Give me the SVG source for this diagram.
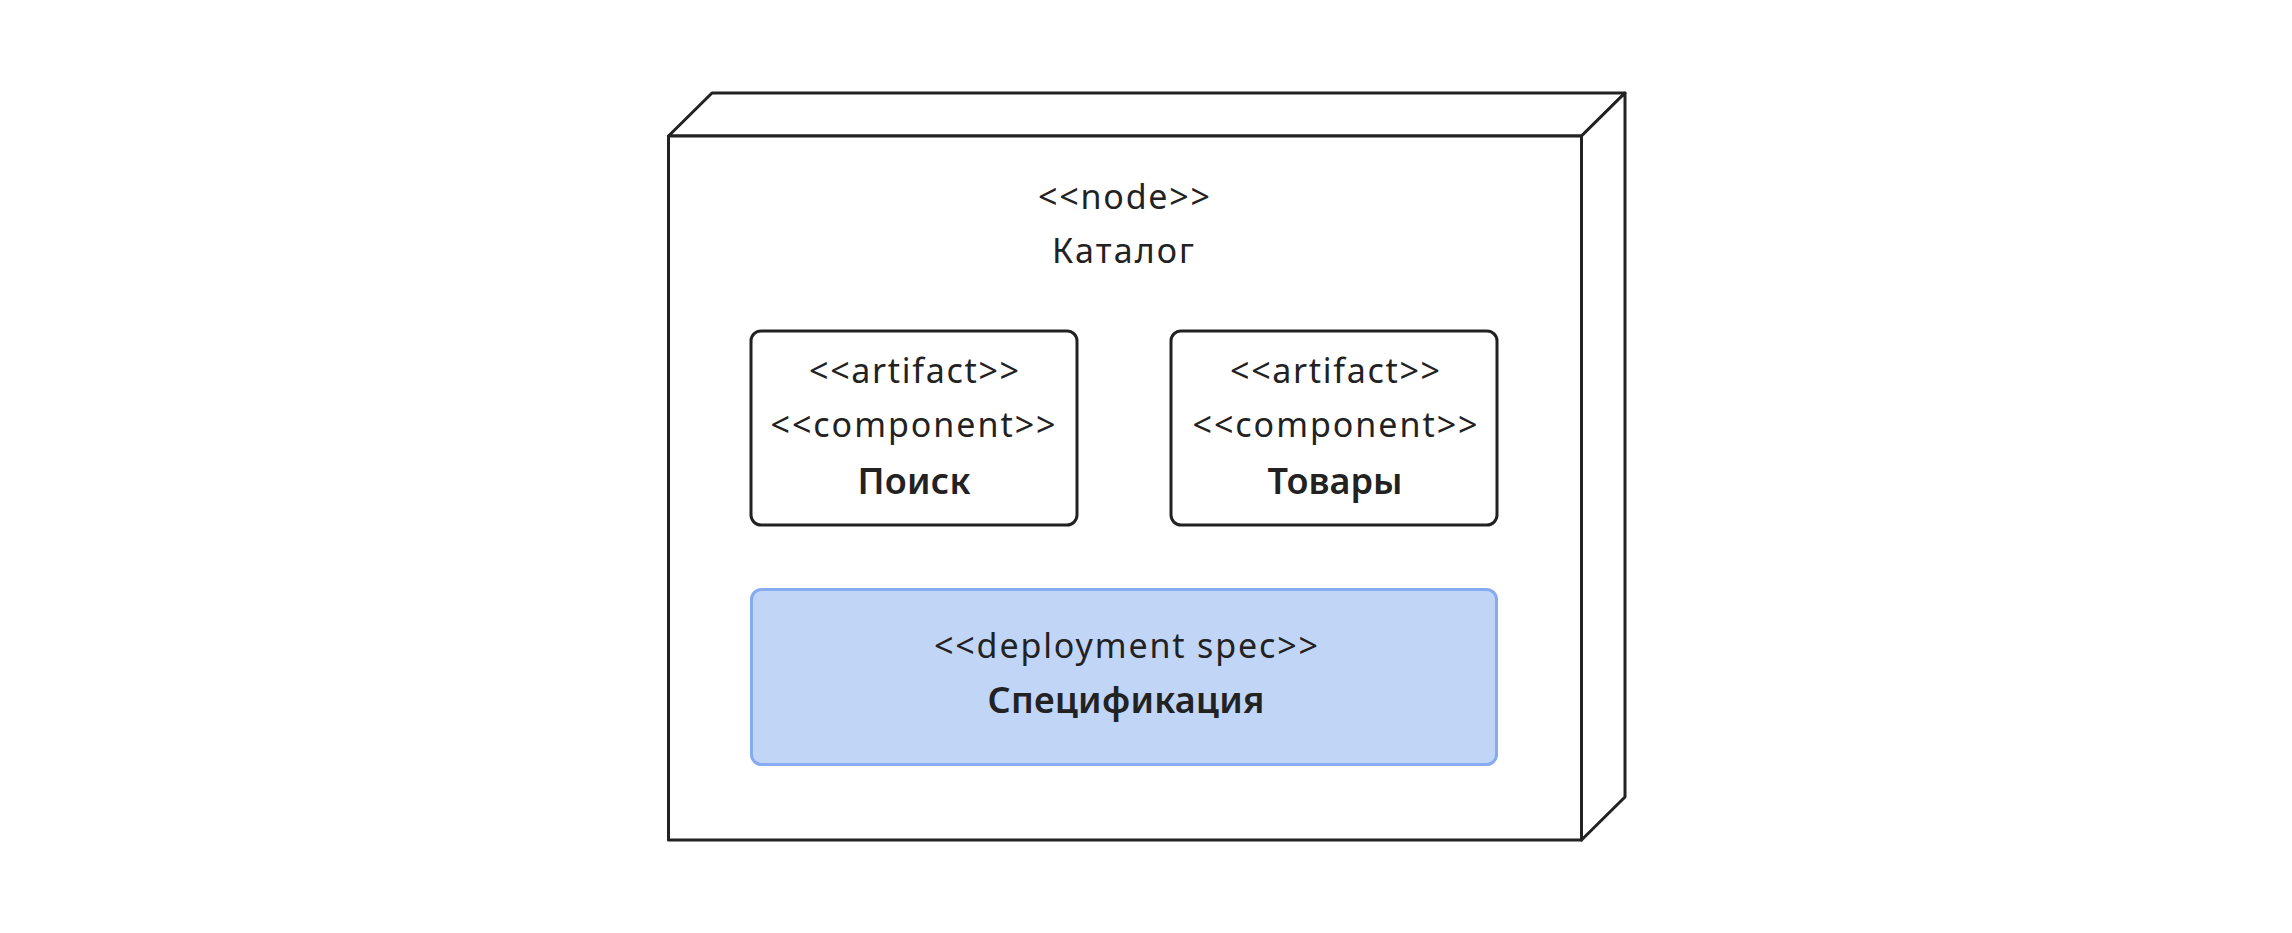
<svg xmlns="http://www.w3.org/2000/svg" width="2292" height="933" viewBox="0 0 2292 933">
<style>
.ln{fill:#ffffff;stroke:#222222;stroke-width:3;stroke-linejoin:round}
.art{fill:#ffffff;stroke:#222222;stroke-width:3}
.spec{fill:#c1d5f7;stroke:#86abf0;stroke-width:3}
.st{font-family:"Noto Sans","Open Sans",sans-serif;font-size:34px;fill:#222222;text-anchor:middle}
.nm{font-family:"Noto Sans","Open Sans",sans-serif;font-size:36px;font-weight:600;fill:#222222;text-anchor:middle}
</style>
<rect width="2292" height="933" fill="#ffffff"/>
<g id="node-catalog">
<polygon class="ln" points="668.5,136 712,93 1625,93 1581.5,136"/>
<polygon class="ln" points="1581.5,136 1625,93 1625,797 1581.5,840"/>
<rect class="ln" x="668.5" y="136" width="913" height="704"/>
<text class="st" x="1124" y="209" textLength="172">&lt;&lt;node&gt;&gt;</text>
<text class="st" x="1123" y="263" textLength="142">Каталог</text>
</g>
<g id="artifact-search">
<rect class="art" x="751" y="331" width="326" height="194" rx="10"/>
<text class="st" x="914" y="383" textLength="210">&lt;&lt;artifact&gt;&gt;</text>
<text class="st" x="913" y="437" textLength="285">&lt;&lt;component&gt;&gt;</text>
<text class="nm" x="914" y="494" textLength="113">Поиск</text>
</g>
<g id="artifact-goods">
<rect class="art" x="1171" y="331" width="326" height="194" rx="10"/>
<text class="st" x="1335" y="383" textLength="210">&lt;&lt;artifact&gt;&gt;</text>
<text class="st" x="1335" y="437" textLength="285">&lt;&lt;component&gt;&gt;</text>
<text class="nm" x="1335" y="494" textLength="135">Товары</text>
</g>
<g id="deployment-spec">
<rect class="spec" x="751.5" y="589.5" width="745" height="175" rx="10"/>
<text class="st" x="1126" y="658" textLength="384">&lt;&lt;deployment spec&gt;&gt;</text>
<text class="nm" x="1126" y="713" textLength="277">Спецификация</text>
</g>
<g id="connectors"></g>
</svg>
